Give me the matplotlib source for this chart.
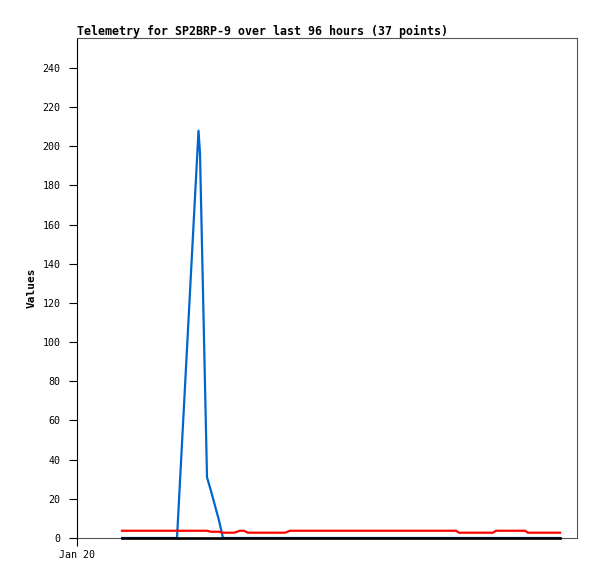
import matplotlib
matplotlib.use("Agg")
import matplotlib.pyplot as plt
import numpy as np

# hours since Jan 20 00:00
hours = [8.64, 12.10, 15.94, 19.20, 23.33, 23.62, 24.96, 25.73, 27.26, 28.03,
         30.14, 30.72, 31.30, 32.06, 32.83, 36.10, 39.94, 40.90, 44.74, 48.58,
         52.42, 56.26, 60.10, 63.94, 67.78, 72.77, 73.34, 76.42, 79.87, 80.45,
         83.14, 86.02, 86.59, 88.90, 90.82, 91.78, 92.74]

red_vals = [3.7, 3.7, 3.7, 3.7, 3.7, 3.7, 3.7, 3.2, 3.2, 2.7,
            2.7, 3.2, 3.7, 3.7, 2.7, 2.7, 2.7, 3.7, 3.7, 3.7,
            3.7, 3.7, 3.7, 3.7, 3.7, 3.7, 2.7, 2.7, 2.7, 3.7,
            3.7, 3.7, 2.7, 2.7, 2.7, 2.7, 2.7]

blue_vals = [0, 0, 0, 0, 208, 196, 31, 24, 9, 0,
             0, 0, 0, 0, 0, 0, 0, 0, 0, 0,
             0, 0, 0, 0, 0, 0, 0, 0, 0, 0,
             0, 0, 0, 0, 0, 0, 0]

black_vals = [0] * 37

y_ticks = list(range(0, 241, 20))
x_tick_labels = ["Jan 20"]
title = "Telemetry for SP2BRP-9 over last 96 hours (37 points)"

mono = "DejaVu Sans Mono"

fig = plt.figure(figsize=(5.97, 5.79), dpi=100)
ax = fig.add_axes([77 / 597, 41 / 579, 500 / 597, 500 / 579])

ax.plot(hours, blue_vals, color="#0066cc", lw=1.6, zorder=2)
ax.plot(hours, red_vals, color="#ff0000", lw=1.6, zorder=3)
ax.plot(hours, black_vals, color="#000000", lw=1.9, zorder=4, clip_on=False)

ax.set_xlim(0, 96)
ax.set_ylim(0, 255.3)
ax.set_yticks(y_ticks)
ax.set_yticklabels([str(v) for v in y_ticks], fontfamily=mono, fontsize=7.2)
ax.set_xticks([0])
ax.set_xticklabels(x_tick_labels, fontfamily=mono, fontsize=7.2)
ax.tick_params(axis="y", length=6, width=0.8, color="#000000", pad=6)
ax.tick_params(axis="x", length=6, width=0.8, color="#000000", pad=3)

for s in ax.spines.values():
    s.set_color("#555555")
    s.set_linewidth(0.8)
    s.set_zorder(1)
ax.spines["left"].set_color("#000000")

ax.set_ylabel("Values", fontfamily=mono, fontsize=8, fontweight="bold", labelpad=4)
ax.set_title(title, fontfamily=mono, fontsize=8.35, fontweight="bold", loc="left", pad=2)

fig.savefig("out.png", dpi=100)
